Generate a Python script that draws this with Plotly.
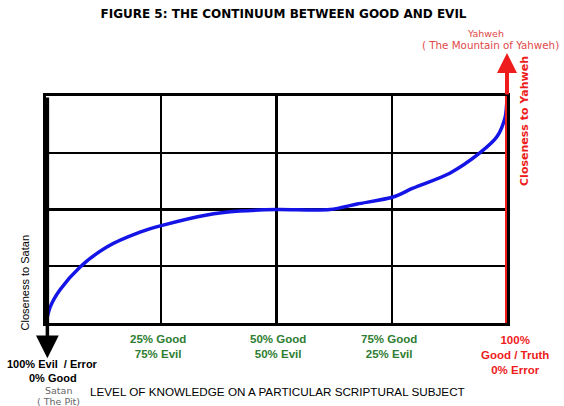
import plotly.graph_objects as go

# Curve data (knowledge % vs closeness)
knowledge = [0, 0.9, 3, 7.4, 13.2, 20.4, 25.2, 34.9, 42, 50, 61.6, 67.5, 75.3, 79.6, 87.6, 94.1, 97.8, 99.6, 100]
closeness = [0, 7, 14.5, 24.7, 33.5, 40, 43, 47.6, 49.3, 50, 50, 52.4, 55.5, 59.4, 66, 74.9, 82, 90.7, 99.5]

grid_minor = [25, 75]
grid_major = [50]

bottom_labels = ["<b>25% Good<br>75% Evil</b>", "<b>50% Good<br>50% Evil</b>", "<b>75% Good<br>25% Evil</b>"]
bottom_label_x = [24.3, 50.3, 74.4]

GREEN = "#2e7d32"
RED = "#ee1c1c"
TEXTRED = "#e04848"
FONT = "Liberation Sans, Arial, sans-serif"
VFONT = "DejaVu Sans, Verdana, sans-serif"


def p(v):
    # data (0..100) -> paper fraction
    return v / 100.0


fig = go.Figure()
fig.add_trace(go.Scatter(x=knowledge, y=closeness, mode="lines",
                         line=dict(color="#1414e6", width=3.5, shape="spline", smoothing=0.8),
                         hoverinfo="skip", showlegend=False))

shapes = []
for g in grid_major:
    shapes.append(dict(type="line", xref="x", yref="y", x0=g, x1=g, y0=0, y1=100,
                       line=dict(color="black", width=3), layer="below"))
    shapes.append(dict(type="line", xref="x", yref="y", x0=0, x1=100, y0=g, y1=g,
                       line=dict(color="black", width=3), layer="below"))
# red right axis line
shapes.append(dict(type="line", xref="x", yref="y", x0=100, x1=100, y0=0, y1=110,
                   line=dict(color=RED, width=4)))

annotations = []
# left black arrow
annotations.append(dict(x=0.3, y=-15.5, ax=0.3, ay=100, xref="x", yref="y", axref="x", ayref="y",
                        text="", showarrow=True, arrowhead=2, arrowsize=1.3, arrowwidth=3.5,
                        arrowcolor="black"))
# right red arrow
annotations.append(dict(x=100, y=118.9, ax=100, ay=100, xref="x", yref="y", axref="x", ayref="y",
                        text="", showarrow=True, arrowhead=2, arrowsize=1.0, arrowwidth=4,
                        arrowcolor=RED))


def label(x, y, text, font, **kw):
    annotations.append(dict(x=p(x), y=p(y), xref="paper", yref="paper", text=text,
                            xanchor="center", yanchor="middle",
                            showarrow=False, font=font, **kw))


for lab, xx in zip(bottom_labels, bottom_label_x):
    label(xx, -10.35, lab, dict(family=FONT, size=11.5, color=GREEN))

label(101.7, -14.1, "<b>100%<br>Good / Truth<br>0% Error</b>", dict(family=FONT, size=11.5, color=RED))
label(1.5, -18.1, "<b>100% Evil  / Error</b>", dict(family=FONT, size=11, color="black"))
label(1.5, -24.2, "<b>0% Good</b>", dict(family=FONT, size=11, color="black"))
label(2.8, -29.6, "Satan", dict(family=VFONT, size=9.5, color="#666666"))
label(2.8, -34.5, "( The Pit)", dict(family=VFONT, size=9.5, color="#666666"))
label(50.3, -30.0, "LEVEL OF KNOWLEDGE ON A PARTICULAR SCRIPTURAL SUBJECT", dict(family=FONT, size=11.7, color="black"))
label(95.4, 127.6, "Yahweh", dict(family=VFONT, size=9.5, color=TEXTRED))
label(96.5, 122.3, "( The Mountain of Yahweh)", dict(family=VFONT, size=10.3, color=TEXTRED))
label(103.9, 89.0, "<b>Closeness to Yahweh</b>", dict(family=VFONT, size=11, color=RED), textangle=-90)
label(-4.6, 17.8, "Closeness to Satan", dict(family=FONT, size=11, color="black"), textangle=-90)

fig.update_layout(
    width=564, height=406,
    margin=dict(l=46, r=57, t=96, b=83),
    paper_bgcolor="white", plot_bgcolor="white",
    title=dict(text="<b>FIGURE 5: THE CONTINUUM BETWEEN GOOD AND EVIL</b>",
               x=283.5 / 564, xanchor="center", y=1 - 14 / 406, yanchor="middle",
               font=dict(family=VFONT, size=12, color="black")),
    xaxis=dict(range=[0, 100], showgrid=True, tickvals=grid_minor, showticklabels=False, ticks="",
               gridcolor="black", gridwidth=1.5, zeroline=False, showline=True, mirror=True,
               linecolor="black", linewidth=3, fixedrange=True),
    yaxis=dict(range=[0, 100], showgrid=True, tickvals=grid_minor, showticklabels=False, ticks="",
               gridcolor="black", gridwidth=1.5, zeroline=False, showline=True, mirror=True,
               linecolor="black", linewidth=3, fixedrange=True),
    shapes=shapes, annotations=annotations, showlegend=False,
)

fig.write_html("out.html", config={"displayModeBar": False},
               post_script="document.body.style.margin='0px';document.body.style.padding='0px';")
